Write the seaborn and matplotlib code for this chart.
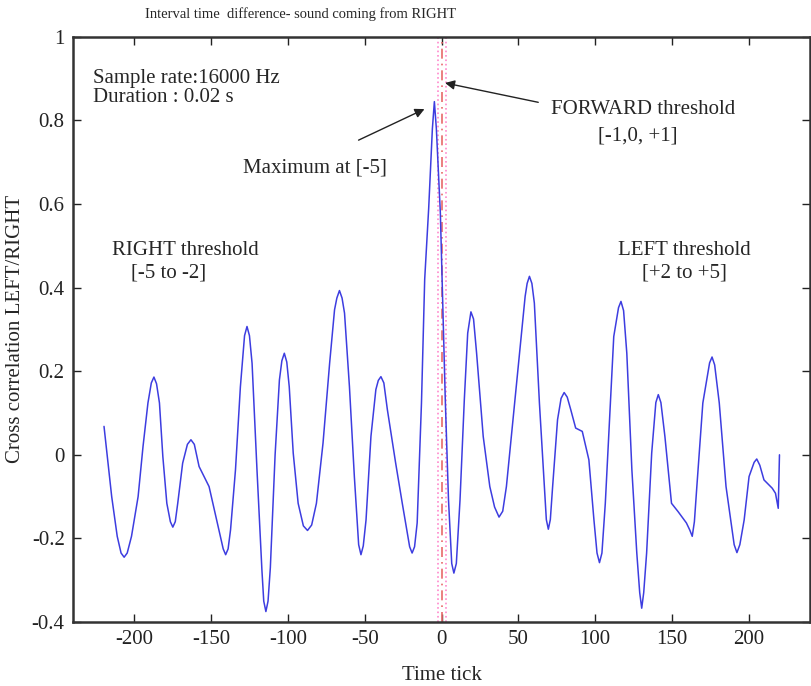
import numpy as np
import pandas as pd
import seaborn as sns
import matplotlib.pyplot as plt
from matplotlib.ticker import FormatStrFormatter

# ---- data ----
time_tick = [-219.8, -214.8, -211.2, -208.7, -206.7, -204.7, -201.9, -197.6, -194.4, -191.2,
             -189.0, -187.3, -185.6, -183.7, -181.5, -178.9, -176.6, -175.0, -173.4, -171.8,
             -168.6, -165.5, -163.2, -161.0, -157.9, -151.4, -146.0, -142.2, -140.6, -139.0,
             -137.4, -134.2, -131.0, -128.3, -126.7, -125.1, -123.4, -120.2, -117.0, -115.8,
             -114.4, -113.0, -111.5, -108.4, -105.6, -104.0, -102.4, -100.8, -99.2, -96.6,
             -93.4, -90.0, -87.3, -84.6, -81.5, -77.2, -72.9, -69.7, -68.2, -66.5,
             -64.8, -63.2, -60.0, -56.8, -54.0, -52.5, -51.0, -49.2, -46.0, -42.8,
             -41.2, -39.5, -37.6, -35.3, -29.9, -25.6, -20.8, -19.2, -17.6, -15.9,
             -13.1, -11.0, -8.4, -6.0, -4.7, -3.4, -0.8, 2.4, 4.5, 6.6,
             8.0, 9.6, 12.0, 14.8, 17.0, 19.1, 20.8, 22.8, 27.1, 31.4,
             34.5, 37.4, 39.8, 42.2, 46.5, 50.8, 54.4, 55.7, 57.2, 58.8,
             60.4, 63.7, 66.9, 68.2, 69.5, 70.8, 72.3, 75.5, 77.8, 79.8,
             81.8, 84.1, 87.3, 91.6, 95.9, 99.2, 101.2, 102.8, 104.4, 106.6,
             109.9, 112.1, 115.2, 116.8, 118.5, 120.6, 123.9, 127.1, 129.0, 130.3,
             131.6, 133.5, 136.8, 139.5, 141.1, 142.8, 145.4, 149.7, 154.0, 159.4,
             161.6, 163.2, 164.6, 166.2, 170.1, 174.5, 176.1, 177.8, 180.8, 185.2,
             190.5, 192.3, 194.2, 197.0, 200.2, 203.5, 205.2, 207.2, 209.9, 215.3,
             217.4, 219.2, 220.0]
xcorr = [0.068, -0.100, -0.195, -0.235, -0.245, -0.235, -0.195, -0.100, 0.020, 0.124,
         0.172, 0.186, 0.170, 0.124, -0.004, -0.116, -0.160, -0.173, -0.160, -0.116,
         -0.020, 0.025, 0.036, 0.025, -0.028, -0.076, -0.163, -0.225, -0.239, -0.225,
         -0.179, -0.036, 0.163, 0.285, 0.307, 0.285, 0.219, -0.036, -0.275, -0.350,
         -0.375, -0.350, -0.270, 0.000, 0.179, 0.225, 0.243, 0.222, 0.163, 0.004,
         -0.116, -0.170, -0.181, -0.168, -0.116, 0.028, 0.219, 0.347, 0.375, 0.393,
         0.375, 0.339, 0.163, -0.052, -0.215, -0.239, -0.218, -0.156, 0.044, 0.156,
         0.178, 0.187, 0.172, 0.108, -0.020, -0.116, -0.220, -0.235, -0.220, -0.163,
         0.124, 0.420, 0.590, 0.780, 0.845, 0.780, 0.578, 0.132, -0.108, -0.260,
         -0.283, -0.260, -0.108, 0.132, 0.291, 0.342, 0.325, 0.243, 0.044, -0.076,
         -0.125, -0.149, -0.135, -0.076, 0.084, 0.243, 0.379, 0.410, 0.427, 0.410,
         0.363, 0.124, -0.076, -0.155, -0.178, -0.155, -0.076, 0.084, 0.135, 0.149,
         0.138, 0.108, 0.064, 0.056, -0.012, -0.156, -0.235, -0.258, -0.235, -0.116,
         0.124, 0.283, 0.352, 0.367, 0.345, 0.243, -0.036, -0.235, -0.330, -0.367,
         -0.330, -0.235, 0.004, 0.125, 0.144, 0.125, 0.044, -0.116, -0.136, -0.163,
         -0.180, -0.195, -0.160, -0.076, 0.124, 0.220, 0.234, 0.215, 0.124, -0.076,
         -0.215, -0.234, -0.215, -0.156, -0.052, -0.018, -0.010, -0.025, -0.060, -0.080,
         -0.092, -0.128, 0.000]
x_ticks = [-200, -150, -100, -50, 0, 50, 100, 150, 200]
y_ticks = [-0.4, -0.2, 0, 0.2, 0.4, 0.6, 0.8, 1]

df = pd.DataFrame({"tick": time_tick, "corr": xcorr})

sns.set_theme(style="ticks")
plt.rcParams["font.family"] = ["Liberation Serif", "DejaVu Serif"]
plt.rcParams["axes.unicode_minus"] = False

fig = plt.figure(figsize=(8.11, 6.86), dpi=100)
ax = fig.add_axes([0.090, 0.0933, 0.909, 0.853])

# threshold markers
ax.axvline(-2.5, color="#ff88cc", ls=":", lw=1.2)
ax.axvline(3.0, color="#ff88cc", ls=":", lw=1.2)
ax.axvline(0.5, color="#e86a6a", ls=(0, (6, 3, 1, 3)), lw=1.2)

sns.lineplot(data=df, x="tick", y="corr", estimator=None, sort=False,
             color="#3d3de0", lw=1.1, ax=ax)

ax.set_xlim(-240, 240)
ax.set_ylim(-0.4, 1)
ax.set_xticks(x_ticks)
ax.set_yticks(y_ticks)
ax.yaxis.set_major_formatter(FormatStrFormatter("%g"))
ax.tick_params(direction="in", length=6, width=1, top=True, right=True,
               labelsize=15, colors="#222222", pad=6)
for s in ax.spines.values():
    s.set_linewidth(1.8)
    s.set_color("#333333")

ax.set_xlabel("Time tick", fontsize=15, labelpad=12)
ax.set_ylabel("Cross correlation LEFT/RIGHT", fontsize=15, labelpad=5)

fs = 15
ax.text(-227, 0.922, "Sample rate:16000 Hz\nDuration : 0.02 s", fontsize=fs,
        ha="left", va="top", linespacing=1.0)
ax.text(-82.5, 0.687, "Maximum at [-5]", fontsize=fs, ha="center", va="center")
ax.annotate("", xy=(-9.5, 0.830), xytext=(-55.7, 0.750),
            arrowprops=dict(arrowstyle="-|>", color="#222222", lw=1, mutation_scale=14))
ax.text(131, 0.826, "FORWARD threshold", fontsize=fs, ha="center", va="center")
ax.text(128, 0.763, "[-1,0, +1]", fontsize=fs, ha="center", va="center")
ax.annotate("", xy=(0.5, 0.891), xytext=(64.7, 0.842),
            arrowprops=dict(arrowstyle="-|>", color="#222222", lw=1, mutation_scale=14))
ax.text(-167, 0.49, "RIGHT threshold", fontsize=fs, ha="center", va="center")
ax.text(-178, 0.436, "[-5 to -2]", fontsize=fs, ha="center", va="center")
ax.text(158, 0.49, "LEFT threshold", fontsize=fs, ha="center", va="center")
ax.text(158, 0.435, "[+2 to +5]", fontsize=fs, ha="center", va="center")

fig.text(0.37, 0.979, "Interval time  difference- sound coming from RIGHT",
         fontsize=10.5, ha="center", va="center")

fig.savefig("out.png", dpi=100)
